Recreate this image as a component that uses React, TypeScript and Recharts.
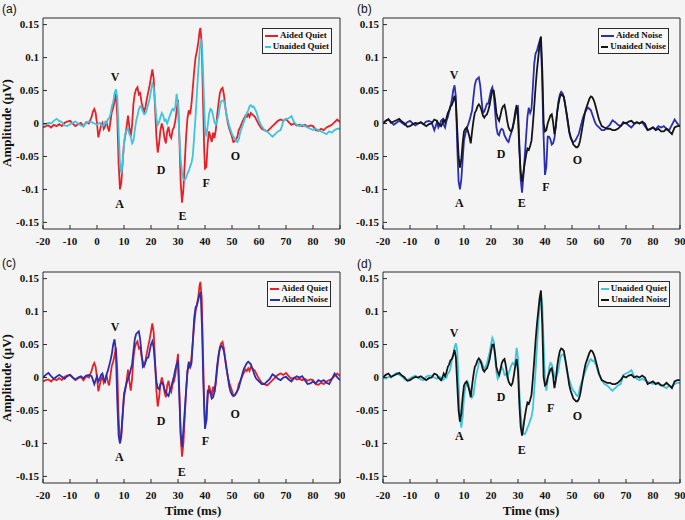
import React from 'react';
import { LineChart, Line, XAxis, YAxis, ReferenceDot, Legend } from 'recharts';

const xTicks = [-20, -10, 0, 10, 20, 30, 40, 50, 60, 70, 80, 90];
const yTicks = [-0.15, -0.1, -0.05, 0, 0.05, 0.1, 0.15];

const aidedQuiet: [number, number][] = [
  [-20, -0.006], [-19, -0.004], [-18, -0.003], [-17, -0.006], [-16, -0.002], [-15, -0.004], [-14, -0.001], [-13, -0.004],
  [-12, 0.001], [-11, 0.003], [-10, 0.004], [-9, 0.0], [-8, -0.004], [-7, -0.001], [-6, 0.001], [-5, -0.004], [-4, 0.002],
  [-3, 0.0], [-2, 0.01], [-1.5, 0.018], [-1, 0.022], [-0.5, 0.016], [0, 0.0], [0.5, -0.021], [1, -0.012], [1.5, -0.003],
  [2, 0.001], [2.5, -0.008], [3, -0.004], [3.5, 0.004], [4, -0.006], [4.5, -0.012], [5, 0.004], [5.5, 0.018], [6, 0.024],
  [6.5, 0.034], [7, 0.045], [7.5, 0.012], [8, -0.06], [8.5, -0.1], [9, -0.09], [9.5, -0.058], [10, -0.03], [10.5, -0.018],
  [11, -0.004], [11.5, 0.012], [12, -0.006], [12.5, -0.02], [13, -0.002], [13.5, 0.03], [14, 0.045], [14.5, 0.052],
  [15, 0.055], [15.5, 0.044], [16, 0.046], [16.5, 0.032], [17, 0.024], [17.5, 0.018], [18, 0.026], [18.5, 0.038],
  [19, 0.048], [19.5, 0.058], [20, 0.07], [20.5, 0.082], [21, 0.068], [21.5, 0.025], [22, -0.02], [22.5, -0.044],
  [23, -0.03], [23.5, -0.01], [24, 0.0], [24.5, -0.008], [25, -0.022], [25.5, -0.03], [26, -0.012], [26.5, -0.005],
  [27, -0.018], [27.5, -0.022], [28, -0.01], [28.5, -0.006], [29, 0.004], [29.5, 0.02], [30, 0.036], [30.5, -0.02],
  [31, -0.09], [31.5, -0.12], [32, -0.1], [32.5, -0.06], [33, -0.02], [33.5, 0.008], [34, 0.02], [34.5, 0.014],
  [35, 0.03], [35.5, 0.055], [36, 0.08], [36.5, 0.1], [37, 0.11], [37.5, 0.122], [38, 0.14], [38.3, 0.145],
  [38.8, 0.12], [39.3, 0.03], [39.7, -0.04], [40, -0.068], [40.5, -0.066], [41, -0.03], [41.5, -0.012], [42, -0.02],
  [42.5, -0.028], [43, -0.014], [43.5, -0.022], [44, -0.01], [44.5, 0.012], [45, 0.03], [45.5, 0.046], [46, 0.052],
  [46.5, 0.054], [47, 0.044], [47.5, 0.026], [48, 0.012], [48.5, 0.0], [49, -0.008], [49.5, -0.014], [50, -0.02],
  [50.5, -0.028], [51, -0.027], [51.5, -0.024], [52, -0.02], [52.5, -0.01], [53, -0.006], [54, 0.004], [55, 0.012],
  [55.5, 0.01], [56, 0.014], [56.5, 0.01], [57, 0.016], [57.5, 0.014], [58, 0.012], [58.5, 0.01], [59, 0.006],
  [60, -0.002], [61, -0.008], [62, -0.01], [63, -0.012], [64, -0.008], [65, -0.004], [66, 0.0], [67, 0.004], [68, 0.006],
  [69, 0.004], [70, 0.007], [71, 0.002], [72, -0.002], [73, 0.0], [74, -0.003], [75, -0.002], [76, -0.004], [77, -0.002],
  [78, -0.005], [79, -0.003], [80, -0.004], [81, -0.01], [82, -0.011], [83, -0.008], [84, -0.01], [85, -0.006],
  [86, -0.004], [87, -0.002], [88, 0.002], [89, 0.006], [90, 0.002],
];

const unaidedQuiet: [number, number][] = [
  [-20, 0.0], [-19, -0.002], [-18, 0.001], [-17, 0.0], [-16, 0.004], [-15, 0.007], [-14, 0.004], [-13, 0.002],
  [-12, -0.003], [-11, -0.004], [-10, -0.001], [-9, 0.001], [-8, 0.003], [-7, 0.0], [-6, -0.003], [-5, -0.004],
  [-4, 0.001], [-3, 0.003], [-2, 0.002], [-1, 0.0], [0, -0.002], [1, 0.001], [2, -0.004], [2.5, -0.003], [3, 0.002],
  [3.5, 0.0], [4, 0.006], [4.5, 0.008], [5, 0.014], [5.5, 0.026], [6, 0.032], [6.5, 0.046], [7, 0.052], [7.5, 0.04],
  [8, -0.01], [8.5, -0.06], [9, -0.076], [9.5, -0.06], [10, -0.03], [10.5, -0.015], [11, -0.01], [11.5, -0.008],
  [12, -0.016], [12.5, -0.02], [13, -0.03], [13.5, -0.026], [14, -0.01], [14.5, 0.004], [15, 0.012], [15.5, 0.022],
  [16, 0.026], [16.5, 0.024], [17, 0.018], [17.5, 0.014], [18, 0.016], [18.5, 0.022], [19, 0.03], [19.5, 0.038],
  [20, 0.05], [20.5, 0.06], [21, 0.055], [21.5, 0.032], [22, 0.008], [22.5, -0.002], [23, 0.002], [23.5, 0.01],
  [24, 0.016], [24.5, 0.012], [25, 0.004], [25.5, 0.006], [26, 0.0], [26.5, 0.006], [27, 0.012], [27.5, 0.018],
  [28, 0.022], [28.5, 0.02], [29, 0.025], [29.5, 0.045], [30, 0.03], [30.5, -0.02], [31, -0.055], [31.5, -0.075],
  [32, -0.085], [32.5, -0.086], [33, -0.082], [33.5, -0.076], [34, -0.072], [34.5, -0.065], [35, -0.06], [35.5, -0.048],
  [36, -0.02], [36.5, 0.01], [37, 0.045], [37.5, 0.08], [38, 0.11], [38.5, 0.128], [39, 0.11], [39.5, 0.05],
  [40, -0.005], [40.5, -0.02], [41, -0.004], [41.5, 0.014], [42, 0.022], [42.5, 0.02], [43, 0.012], [43.5, 0.002],
  [44, -0.002], [44.5, 0.004], [45, 0.012], [45.5, 0.026], [46, 0.034], [46.5, 0.035], [47, 0.034], [47.5, 0.026],
  [48, 0.012], [48.5, 0.004], [49, -0.004], [49.5, -0.01], [50, -0.016], [50.5, -0.02], [51, -0.022], [51.5, -0.026],
  [52, -0.028], [52.5, -0.024], [53, -0.014], [53.5, -0.008], [54, -0.002], [54.5, 0.004], [55, 0.01], [55.5, 0.016],
  [56, 0.02], [56.5, 0.026], [57, 0.028], [57.5, 0.025], [58, 0.026], [58.5, 0.022], [59, 0.018], [60, 0.004],
  [61, -0.004], [62, -0.01], [63, -0.012], [64, -0.016], [65, -0.02], [66, -0.016], [67, -0.012], [68, -0.01],
  [68.5, -0.004], [69, 0.004], [70, 0.006], [71, 0.008], [72, 0.011], [73, 0.002], [74, -0.002], [75, -0.004],
  [76, -0.002], [77, -0.004], [78, -0.006], [79, -0.008], [80, -0.01], [81, -0.008], [82, -0.01], [83, -0.012],
  [84, -0.014], [85, -0.016], [86, -0.012], [87, -0.014], [88, -0.01], [89, -0.008], [90, -0.008],
];

const aidedNoise: [number, number][] = [
  [-20, 0.0], [-19, 0.004], [-18, 0.007], [-17, 0.002], [-16, -0.002], [-15, 0.001], [-14, 0.004], [-13, 0.001],
  [-12, -0.002], [-11, 0.002], [-10, 0.004], [-9, 0.0], [-8, -0.003], [-7, 0.0], [-6, 0.002], [-5, -0.001], [-4, 0.003],
  [-3, 0.004], [-2, 0.002], [-1.5, -0.004], [-1, -0.01], [-0.5, -0.004], [0, 0.002], [0.5, -0.006], [1, -0.002],
  [1.5, 0.004], [2, 0.006], [2.5, -0.002], [3, -0.006], [3.5, 0.004], [4, 0.01], [4.5, 0.018], [5, 0.026], [5.5, 0.036],
  [6, 0.05], [6.5, 0.058], [7, 0.04], [7.5, -0.035], [8, -0.088], [8.5, -0.1], [9, -0.085], [9.5, -0.055], [10, -0.025],
  [10.5, -0.016], [11, -0.008], [11.5, -0.002], [12, 0.004], [12.5, 0.012], [13, 0.02], [13.5, 0.04], [14, 0.058],
  [14.5, 0.066], [15, 0.068], [15.5, 0.07], [16, 0.058], [16.5, 0.036], [17, 0.016], [17.5, 0.018], [18, 0.024],
  [18.5, 0.03], [19, 0.03], [19.5, 0.04], [20, 0.05], [20.5, 0.055], [21, 0.045], [21.5, 0.02], [22, -0.006],
  [22.5, -0.016], [23, -0.018], [23.5, -0.01], [24, -0.008], [24.5, -0.01], [25, -0.018], [25.5, -0.022], [26, -0.026],
  [26.5, -0.028], [27, -0.02], [27.5, -0.014], [28, -0.006], [28.5, 0.002], [29, 0.012], [29.5, 0.02], [30, 0.024],
  [30.5, -0.03], [31, -0.085], [31.5, -0.105], [32, -0.08], [32.5, -0.05], [33, -0.02], [33.5, 0.01], [34, 0.024],
  [34.5, 0.016], [35, 0.022], [35.5, 0.055], [36, 0.09], [36.5, 0.106], [37, 0.11], [37.5, 0.118], [38, 0.125],
  [38.4, 0.13], [38.9, 0.075], [39.4, -0.01], [40, -0.078], [40.5, -0.065], [41, -0.02], [41.5, -0.02], [42, -0.024],
  [42.5, -0.032], [43, -0.03], [43.5, -0.022], [44, -0.004], [44.5, 0.018], [45, 0.034], [45.5, 0.044], [46, 0.048],
  [46.5, 0.046], [47, 0.04], [47.5, 0.028], [48, 0.014], [48.5, 0.0], [49, -0.014], [49.5, -0.022], [50, -0.026],
  [50.5, -0.028], [51, -0.027], [51.5, -0.024], [52, -0.02], [52.5, -0.016], [53, -0.008], [53.5, 0.0], [54, 0.008],
  [54.5, 0.014], [55, 0.018], [55.5, 0.022], [56, 0.024], [56.5, 0.022], [57, 0.02], [57.5, 0.014], [58, 0.008],
  [58.5, 0.002], [59, -0.002], [60, -0.006], [61, -0.01], [62, -0.01], [63, -0.006], [64, -0.002], [65, 0.005],
  [66, 0.002], [67, -0.002], [68, -0.004], [69, 0.0], [70, 0.001], [71, -0.003], [72, -0.006], [73, -0.001], [74, 0.002],
  [75, 0.0], [76, 0.002], [77, -0.004], [78, -0.01], [79, -0.009], [80, -0.006], [81, -0.009], [82, -0.004],
  [83, -0.006], [84, -0.004], [85, -0.008], [86, -0.01], [87, -0.002], [88, 0.006], [89, 0.0], [90, -0.004],
];

const unaidedNoise: [number, number][] = [
  [-20, 0.0], [-19, 0.004], [-18, 0.006], [-17, 0.001], [-16, 0.003], [-15, 0.005], [-14, 0.007], [-13, 0.003],
  [-12, 0.0], [-11, -0.005], [-10, -0.004], [-9, -0.001], [-8, 0.001], [-7, 0.0], [-6, 0.002], [-5, -0.001],
  [-4, -0.004], [-3, -0.001], [-2, 0.0], [-1, 0.006], [0, 0.004], [0.5, 0.0], [1, -0.002], [1.5, -0.004], [2, 0.0],
  [2.5, 0.006], [3, 0.002], [3.5, 0.008], [4, 0.016], [4.5, 0.02], [5, 0.026], [5.5, 0.028], [6, 0.034], [6.5, 0.042],
  [7, 0.03], [7.5, -0.01], [8, -0.05], [8.5, -0.067], [9, -0.055], [9.5, -0.03], [10, -0.012], [10.5, -0.008],
  [11, -0.006], [11.5, -0.012], [12, -0.02], [12.5, -0.03], [13, -0.012], [13.5, 0.004], [14, 0.016], [14.5, 0.02],
  [15, 0.026], [15.5, 0.029], [16, 0.026], [16.5, 0.02], [17, 0.012], [17.5, 0.009], [18, 0.012], [18.5, 0.014],
  [19, 0.02], [19.5, 0.028], [20, 0.04], [20.5, 0.05], [21, 0.05], [21.5, 0.036], [22, 0.016], [22.5, 0.008],
  [23, 0.004], [23.5, 0.012], [24, 0.022], [24.5, 0.026], [25, 0.028], [25.5, 0.018], [26, 0.004], [26.5, -0.006],
  [27, -0.01], [27.5, -0.012], [28, -0.008], [28.5, 0.004], [29, 0.018], [29.5, 0.028], [30, 0.01], [30.5, -0.04],
  [31, -0.075], [31.5, -0.088], [32, -0.075], [32.5, -0.06], [33, -0.048], [33.5, -0.038], [34, -0.04], [34.5, -0.034],
  [35, -0.026], [35.5, -0.002], [36, 0.025], [36.5, 0.055], [37, 0.08], [37.5, 0.1], [38, 0.12], [38.5, 0.132],
  [39, 0.08], [39.5, 0.0], [40, -0.012], [40.5, -0.01], [41, 0.0], [41.5, 0.006], [42, 0.012], [42.5, 0.014],
  [43, 0.002], [43.5, -0.016], [44, -0.004], [44.5, 0.016], [45, 0.03], [45.5, 0.04], [46, 0.044], [46.5, 0.043],
  [47, 0.04], [47.5, 0.028], [48, 0.016], [48.5, 0.002], [49, -0.012], [49.5, -0.02], [50, -0.026], [50.5, -0.032],
  [51, -0.034], [51.5, -0.036], [52, -0.036], [52.5, -0.033], [53, -0.026], [53.5, -0.014], [54, -0.002], [54.5, 0.01],
  [55, 0.02], [55.5, 0.026], [56, 0.032], [56.5, 0.038], [57, 0.041], [57.5, 0.04], [58, 0.036], [58.5, 0.03],
  [59, 0.022], [60, 0.006], [61, -0.004], [62, -0.006], [63, -0.008], [64, -0.008], [65, -0.01], [66, -0.01],
  [67, -0.008], [68, -0.004], [69, 0.002], [70, 0.0], [71, 0.003], [72, 0.004], [73, 0.0], [74, 0.002], [75, 0.0],
  [76, 0.003], [77, 0.0], [78, -0.01], [79, -0.008], [80, -0.006], [81, -0.01], [82, -0.008], [83, -0.012],
  [84, -0.012], [85, -0.008], [86, -0.012], [87, -0.016], [88, -0.006], [89, -0.004], [90, -0.004],
];

// Wave labels per panel: [letter, time (ms), amplitude]
const labelsA: [string, number, number][] = [
  ['V', 6.7, 0.07], ['A', 8.4, -0.122], ['D', 23.7, -0.07], ['E', 31.7, -0.141], ['F', 40.4, -0.09], ['O', 51.3, -0.05],
];
const labelsB: [string, number, number][] = [
  ['V', 6.3, 0.074], ['A', 8.3, -0.121], ['D', 23.7, -0.047], ['E', 31.4, -0.121], ['F', 40.3, -0.097], ['O', 52, -0.055],
];
const labelsC: [string, number, number][] = [
  ['V', 6.7, 0.076], ['A', 8.3, -0.12], ['D', 23.7, -0.066], ['E', 31.4, -0.143], ['F', 40.2, -0.096], ['O', 51.2, -0.055],
];
const labelsD: [string, number, number][] = [
  ['V', 6.3, 0.068], ['A', 8.3, -0.088], ['D', 23.7, -0.03], ['E', 31.4, -0.11], ['F', 42.1, -0.046], ['O', 52, -0.058],
];

const toRows = (pts: [number, number][]) => pts.map(([t, v]) => ({ t, v }));

const SERIES: Record<string, { name: string; color: string; data: { t: number; v: number }[] }> = {
  aq: { name: 'Aided Quiet', color: '#e42128', data: toRows(aidedQuiet) },
  uq: { name: 'Unaided Quiet', color: '#3ec4de', data: toRows(unaidedQuiet) },
  an: { name: 'Aided Noise', color: '#2a2fae', data: toRows(aidedNoise) },
  un: { name: 'Unaided Noise', color: '#151515', data: toRows(unaidedNoise) },
};

const SERIF = '"Liberation Serif", "Times New Roman", serif';
const SANS = '"Liberation Sans", Arial, sans-serif';
const BG = '#f4f4f4';
const AXIS = '#2a2a2a';

const tickStyle = { fontFamily: SERIF, fontWeight: 700, fontSize: 11, fill: '#111' };

const LegendBox = ({ keys, width }: { keys: string[]; width: number }) => (
  <div
    style={{
      border: `1px solid ${AXIS}`,
      background: '#f8f8f8',
      padding: '1px 2px 1px 2px',
      fontFamily: SERIF,
      fontWeight: 700,
      fontSize: 9,
      lineHeight: '11px',
      color: '#111',
      width,
      boxSizing: 'border-box',
      whiteSpace: 'nowrap',
    }}
  >
    {keys.map((k) => (
      <div key={k} style={{ display: 'flex', alignItems: 'center' }}>
        <span style={{ display: 'inline-block', width: 13, borderTop: `2px solid ${SERIES[k].color}`, marginRight: 2 }} />
        <span>{SERIES[k].name}</span>
      </div>
    ))}
  </div>
);

type PanelProps = {
  left: number;
  top: number;
  height: number;
  marginTop: number;
  keys: string[];
  labels: [string, number, number][];
  legend: { left: number; top: number; width: number };
};

const Panel = ({ left, top, height, marginTop, keys, labels, legend }: PanelProps) => (
  <div style={{ position: 'absolute', left, top }}>
    <LineChart width={345} height={height} margin={{ top: marginTop, right: 4, bottom: 0, left: 0 }}>
      <XAxis
        dataKey="t"
        type="number"
        domain={[-20, 90]}
        ticks={xTicks}
        allowDataOverflow
        height={height - marginTop - 1 - 211}
        tickSize={-4}
        tickMargin={12}
        tick={tickStyle}
        stroke={AXIS}
        interval={0}
      />
      <XAxis
        xAxisId="top"
        orientation="top"
        type="number"
        domain={[-20, 90]}
        ticks={xTicks}
        allowDataOverflow
        height={1}
        tickSize={-4}
        tick={false}
        stroke={AXIS}
      />
      <YAxis
        type="number"
        domain={[-0.16, 0.16]}
        ticks={yTicks}
        allowDataOverflow
        width={43}
        tickSize={-4}
        tickMargin={8}
        tick={tickStyle}
        stroke={AXIS}
        interval={0}
      />
      <YAxis
        yAxisId="r"
        orientation="right"
        type="number"
        domain={[-0.16, 0.16]}
        ticks={yTicks}
        allowDataOverflow
        width={1}
        tickSize={-4}
        tick={false}
        stroke={AXIS}
      />
      {keys.map((k) => (
        <Line
          key={k}
          data={SERIES[k].data}
          dataKey="v"
          name={SERIES[k].name}
          type="linear"
          stroke={SERIES[k].color}
          strokeWidth={1.8}
          dot={false}
          activeDot={false}
          isAnimationActive={false}
        />
      ))}
      {labels.map(([letter, t, v]) => (
        <ReferenceDot
          key={letter}
          x={t}
          y={v}
          r={0}
          shape={(p: any) => (
            <text
              x={p.cx}
              y={p.cy}
              textAnchor="middle"
              dominantBaseline="central"
              style={{ fontFamily: SERIF, fontWeight: 700, fontSize: 12, fill: '#111' }}
            >
              {letter}
            </text>
          )}
        />
      ))}
      <Legend
        layout="vertical"
        align="center"
        verticalAlign="middle"
        content={() => <LegendBox keys={keys} width={legend.width} />}
        wrapperStyle={{ left: legend.left, top: legend.top, width: legend.width }}
      />
    </LineChart>
  </div>
);

export default function App() {
  return (
    <div style={{ position: 'absolute', left: 0, top: 0, width: 685, height: 520, background: BG, overflow: 'hidden' }}>
      <Panel left={0} top={0} height={255} marginTop={17} keys={['aq', 'uq']} labels={labelsA}
        legend={{ left: 262, top: 28, width: 70 }} />
      <Panel left={340} top={0} height={255} marginTop={17} keys={['an', 'un']} labels={labelsB}
        legend={{ left: 258, top: 28, width: 71 }} />
      <Panel left={0} top={255} height={265} marginTop={16} keys={['aq', 'an']} labels={labelsC}
        legend={{ left: 267, top: 26, width: 64 }} />
      <Panel left={340} top={255} height={265} marginTop={16} keys={['uq', 'un']} labels={labelsD}
        legend={{ left: 258, top: 26, width: 72 }} />
      <svg width={685} height={520} style={{ position: 'absolute', left: 0, top: 0, pointerEvents: 'none' }}>
        <text x={2} y={13} style={{ fontFamily: SANS, fontSize: 12, fill: '#111' }}>(a)</text>
        <text x={357} y={13} style={{ fontFamily: SANS, fontSize: 12, fill: '#111' }}>(b)</text>
        <text x={2} y={267} style={{ fontFamily: SANS, fontSize: 12, fill: '#111' }}>(c)</text>
        <text x={357} y={268} style={{ fontFamily: SANS, fontSize: 12, fill: '#111' }}>(d)</text>
        <text transform="translate(11,123) rotate(-90)" textAnchor="middle"
          style={{ fontFamily: SERIF, fontWeight: 700, fontSize: 13, fill: '#111' }}>Amplitude (μV)</text>
        <text transform="translate(11,378) rotate(-90)" textAnchor="middle"
          style={{ fontFamily: SERIF, fontWeight: 700, fontSize: 13, fill: '#111' }}>Amplitude (μV)</text>
        <text x={193} y={515} textAnchor="middle"
          style={{ fontFamily: SERIF, fontWeight: 700, fontSize: 13, fill: '#111' }}>Time (ms)</text>
        <text x={531} y={515} textAnchor="middle"
          style={{ fontFamily: SERIF, fontWeight: 700, fontSize: 13, fill: '#111' }}>Time (ms)</text>
      </svg>
    </div>
  );
}
